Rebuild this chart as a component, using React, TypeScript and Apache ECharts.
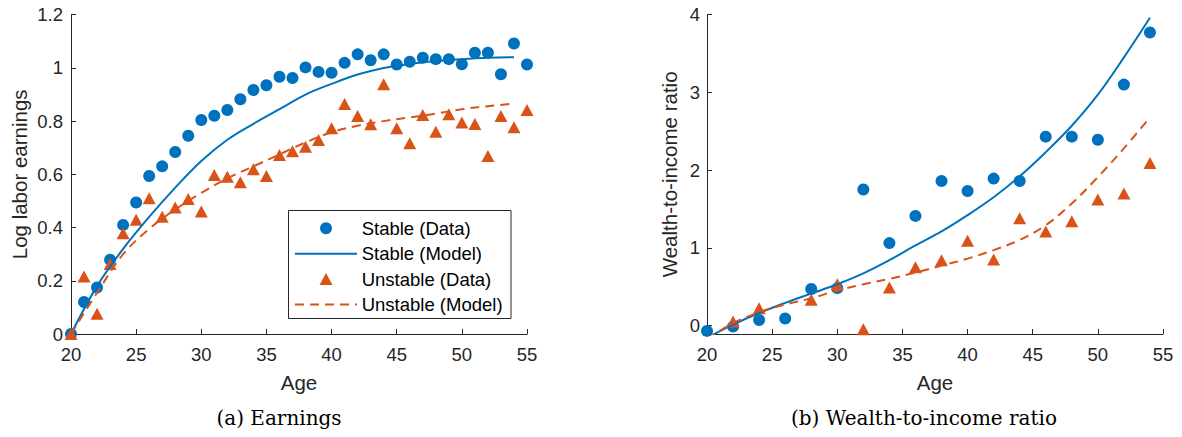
import React, { useEffect, useRef } from "react";
import * as echarts from "echarts";

// ---------- data ----------
const earnAges = [20, 21, 22, 23, 24, 25, 26, 27, 28, 29, 30, 31, 32, 33, 34, 35, 36, 37, 38, 39, 40, 41, 42, 43, 44, 45, 46, 47, 48, 49, 50, 51, 52, 53, 54, 55];
const stableEarnData = [0, 0.12, 0.175, 0.279, 0.41, 0.494, 0.594, 0.63, 0.684, 0.745, 0.804, 0.82, 0.842, 0.882, 0.917, 0.935, 0.967, 0.962, 1.002, 0.985, 0.982, 1.019, 1.051, 1.029, 1.051, 1.013, 1.023, 1.038, 1.033, 1.033, 1.014, 1.057, 1.057, 0.976, 1.092, 1.013];
const unstableEarnData = [0, 0.216, 0.076, 0.263, 0.379, 0.429, 0.51, 0.441, 0.475, 0.507, 0.46, 0.598, 0.591, 0.57, 0.619, 0.594, 0.673, 0.687, 0.704, 0.729, 0.773, 0.864, 0.819, 0.788, 0.939, 0.773, 0.717, 0.823, 0.76, 0.826, 0.795, 0.789, 0.669, 0.819, 0.777, 0.842];

const modelAges = [20, 22, 24, 26, 28, 30, 32, 34, 36, 38, 40, 42, 44, 46, 48, 50, 52, 54];
const stableEarnModel = [0, 0.18, 0.32, 0.44, 0.55, 0.65, 0.73, 0.79, 0.845, 0.9, 0.94, 0.975, 1.0, 1.015, 1.026, 1.033, 1.038, 1.04];
const unstableEarnModel = [0, 0.155, 0.3, 0.395, 0.468, 0.53, 0.585, 0.63, 0.675, 0.72, 0.758, 0.783, 0.8, 0.814, 0.828, 0.845, 0.856, 0.866];

const wealthAges = [20, 22, 24, 26, 28, 30, 32, 34, 36, 38, 40, 42, 44, 46, 48, 50, 52, 54];
const stableWealthData = [-0.07, -0.015, 0.07, 0.09, 0.47, 0.48, 1.75, 1.06, 1.41, 1.86, 1.73, 1.89, 1.86, 2.43, 2.43, 2.39, 3.1, 3.77];
const unstableWealthData: (number | null)[] = [null, 0.05, 0.22, null, 0.33, 0.53, -0.05, 0.49, 0.75, 0.84, 1.09, 0.85, 1.38, 1.21, 1.34, 1.62, 1.7, 2.09];
const stableWealthModel = [-0.16, 0.01, 0.16, 0.29, 0.41, 0.53, 0.67, 0.84, 1.03, 1.21, 1.42, 1.65, 1.92, 2.23, 2.57, 2.97, 3.45, 3.96];
const unstableWealthModel = [-0.17, 0.03, 0.17, 0.27, 0.35, 0.45, 0.53, 0.6, 0.68, 0.77, 0.86, 0.97, 1.1, 1.29, 1.57, 1.91, 2.28, 2.68];

const xTicks = [20, 25, 30, 35, 40, 45, 50, 55];
const wealthYTicks = [0, 1, 2, 3, 4];
const seriesNames = ["Stable (Data)", "Stable (Model)", "Unstable (Data)", "Unstable (Model)"];
const captions = ["(a) Earnings", "(b) Wealth-to-income ratio"];
const axisNames = { x: "Age", yLeft: "Log labor earnings", yRight: "Wealth-to-income ratio" };

// ---------- style ----------
const BLUE = "#0072BD";
const ORANGE = "#D95319";
const AX = "#262626";
const FONT = "'Liberation Sans', Arial, Helvetica, sans-serif";
const SERIF = "'DejaVu Serif', serif";

function pairs(xs: number[], ys: (number | null)[]) {
  const out: number[][] = [];
  xs.forEach((x, i) => {
    const y = ys[i];
    if (y !== null && y !== undefined) out.push([x, y]);
  });
  return out;
}

function axisBase() {
  return {
    axisLine: { show: true, onZero: false, lineStyle: { color: AX, width: 1 } },
    axisTick: { show: true, inside: true, length: 5, lineStyle: { color: AX, width: 1 } },
    axisLabel: { color: AX, fontSize: 18.5, fontFamily: FONT },
    splitLine: { show: false },
    nameTextStyle: { color: AX, fontSize: 20.5, fontFamily: FONT },
  };
}

function xAxisFor(gridIndex: number) {
  const b = axisBase();
  return {
    ...b,
    type: "value",
    gridIndex,
    min: xTicks[0],
    max: xTicks[xTicks.length - 1],
    interval: 5,
    name: axisNames.x,
    nameLocation: "middle",
    nameGap: 38,
    axisLabel: { ...b.axisLabel, margin: 11 },
  };
}

function seriesFor(idx: number, sData: number[][], sModel: number[][], uData: number[][], uModel: number[][]) {
  const lineCommon = {
    xAxisIndex: idx,
    yAxisIndex: idx,
    showSymbol: false,
    symbol: "none",
    smooth: 0.35,
    clip: true,
    emphasis: { disabled: true },
  };
  return [
    {
      type: "scatter",
      name: seriesNames[0],
      xAxisIndex: idx,
      yAxisIndex: idx,
      data: sData,
      symbol: "circle",
      symbolSize: 12,
      itemStyle: { color: BLUE, opacity: 1 },
      clip: false,
      emphasis: { disabled: true },
    },
    {
      ...lineCommon,
      type: "line",
      name: seriesNames[1],
      data: sModel,
      lineStyle: { color: BLUE, width: 2 },
      itemStyle: { color: BLUE },
    },
    {
      type: "scatter",
      name: seriesNames[2],
      xAxisIndex: idx,
      yAxisIndex: idx,
      data: uData,
      symbol: "triangle",
      symbolSize: [13, 12],
      itemStyle: { color: ORANGE, opacity: 1 },
      clip: false,
      emphasis: { disabled: true },
    },
    {
      ...lineCommon,
      type: "line",
      name: seriesNames[3],
      data: uModel,
      lineStyle: { color: ORANGE, width: 2, type: [9, 6] },
      itemStyle: { color: ORANGE },
    },
  ];
}

// legend drawn as graphic (box + icons + texts)
function legendGraphic() {
  const box = { x: 288.5, y: 210.5, w: 222.5, h: 108 };
  const rows = [228.3, 253.7, 279.1, 304.5];
  const iconL = 295;
  const iconR = 357;
  const iconC = (iconL + iconR) / 2;
  const textX = 361.7;
  const els: any[] = [
    {
      type: "rect",
      shape: { x: box.x, y: box.y, width: box.w, height: box.h },
      style: { fill: "#ffffff", stroke: AX, lineWidth: 1 },
      z: 10,
    },
    { type: "circle", shape: { cx: iconC, cy: rows[0], r: 6 }, style: { fill: BLUE }, z: 11 },
    {
      type: "line",
      shape: { x1: iconL, y1: rows[1], x2: iconR, y2: rows[1] },
      style: { stroke: BLUE, lineWidth: 2 },
      z: 11,
    },
    {
      type: "polygon",
      shape: {
        points: [
          [iconC - 6.5, rows[2] + 6],
          [iconC + 6.5, rows[2] + 6],
          [iconC, rows[2] - 6],
        ],
      },
      style: { fill: ORANGE },
      z: 11,
    },
    {
      type: "line",
      shape: { x1: iconL, y1: rows[3], x2: iconR, y2: rows[3] },
      style: { stroke: ORANGE, lineWidth: 2, lineDash: [9, 6] },
      z: 11,
    },
  ];
  seriesNames.forEach((n, i) => {
    els.push({
      type: "text",
      x: textX,
      y: rows[i],
      z: 11,
      style: { text: n, fontSize: 18.5, fontFamily: FONT, fill: "#000", align: "left", verticalAlign: "middle" },
    });
  });
  return els;
}

export default function App() {
  const ref = useRef<HTMLDivElement>(null);

  useEffect(() => {
    if (!ref.current) return;
    const chart = echarts.init(ref.current, undefined, { renderer: "svg" });
    const b0 = axisBase();
    const b1 = axisBase();
    const option: any = {
      animation: false,
      backgroundColor: "#ffffff",
      grid: [
        { left: 71, top: 14.7, width: 456, height: 319.3, containLabel: false },
        { left: 707, top: 14.7, width: 456, height: 319.3, containLabel: false },
      ],
      xAxis: [xAxisFor(0), xAxisFor(1)],
      yAxis: [
        {
          ...b0,
          type: "value",
          gridIndex: 0,
          min: 0,
          max: 1.2,
          interval: 0.2,
          name: axisNames.yLeft,
          nameLocation: "middle",
          nameGap: 41,
          axisLabel: { ...b0.axisLabel, margin: 8 },
        },
        {
          ...b1,
          type: "value",
          gridIndex: 1,
          min: -0.11,
          max: 4,
          name: axisNames.yRight,
          nameLocation: "middle",
          nameGap: 27,
          axisTick: { ...b1.axisTick, customValues: wealthYTicks },
          axisLabel: { ...b1.axisLabel, margin: 7, customValues: wealthYTicks },
        },
      ],
      graphic: [
        ...legendGraphic(),
        {
          type: "text",
          x: 279,
          y: 418,
          style: { text: captions[0], fontSize: 20, fontFamily: SERIF, fill: "#000", align: "center", verticalAlign: "middle" },
        },
        {
          type: "text",
          x: 924,
          y: 418,
          style: { text: captions[1], fontSize: 20, fontFamily: SERIF, fill: "#000", align: "center", verticalAlign: "middle" },
        },
      ],
      series: [
        ...seriesFor(
          0,
          pairs(earnAges, stableEarnData),
          pairs(modelAges, stableEarnModel),
          pairs(earnAges, unstableEarnData),
          pairs(modelAges, unstableEarnModel)
        ),
        ...seriesFor(
          1,
          pairs(wealthAges, stableWealthData),
          pairs(wealthAges, stableWealthModel),
          pairs(wealthAges, unstableWealthData),
          pairs(wealthAges, unstableWealthModel)
        ),
      ],
    };
    chart.setOption(option);
    return () => chart.dispose();
  }, []);

  return (
    <div
      ref={ref}
      style={{ position: "fixed", left: 0, top: 0, width: 1182, height: 437, background: "#fff" }}
    />
  );
}
